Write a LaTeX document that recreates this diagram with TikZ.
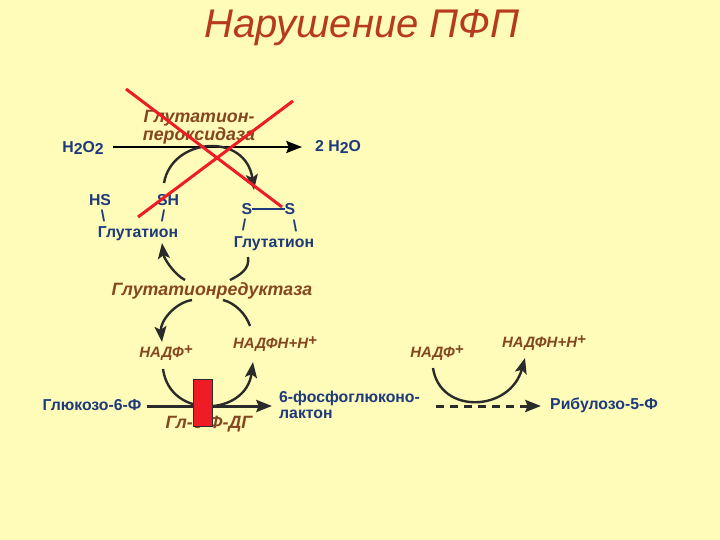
\documentclass[tikz,border=0pt]{standalone}
\usepackage{fontspec}
\setmainfont{Liberation Sans}
\usepackage{xcolor}
\definecolor{SlidePaper}{HTML}{FFFBB9}
\definecolor{SlideTitle}{HTML}{B63A1C}
\definecolor{SlideBlue}{HTML}{1C3A7C}
\definecolor{SlideBrown}{HTML}{84471F}
\definecolor{SlideInk}{HTML}{2B2B2B}
\definecolor{SlideRed}{HTML}{EE1C25}
\usetikzlibrary{positioning,arrows.meta,calc}
\newcommand{\lowtwo}{\raisebox{-2.5pt}{2}}
\newcommand{\hightplus}{\raisebox{3.5pt}{+}}
\tikzset{
  vtitle/.style={text=SlideTitle,inner sep=0pt,font=\fontsize{40}{40}\selectfont\itshape},
  vchem/.style={text=SlideBlue,inner sep=0pt,font=\fontsize{15.8}{16}\selectfont\bfseries},
  vchemleft/.style={vchem,align=left,anchor=west},
  venzyme/.style={text=SlideBrown,inner sep=0pt,align=center,font=\fontsize{17.8}{16}\selectfont\bfseries\itshape},
  vcofactor/.style={text=SlideBrown,inner sep=0pt,font=\fontsize{15}{16}\selectfont\bfseries\itshape},
  vflowline/.style={draw=SlideInk,line width=2.4pt},
  vflow/.style={vflowline,-{Stealth[length=5.5mm,width=4.2mm,inset=1.2mm]}},
  vmain/.style={-{Stealth[length=5.5mm,width=4.2mm,inset=0.8mm]},draw=black,line width=2.4pt},
  vdashflow/.style={vmain,draw=SlideInk,line width=3pt,dash pattern=on 8pt off 6pt},
  vcross/.style={draw=SlideRed,line width=3pt},
  vbond/.style={draw=SlideBlue,line width=1.2pt}
}
\begin{document}
\begin{tikzpicture}[x=1pt,y=-1pt]
  \useasboundingbox[fill=SlidePaper] (0,0) rectangle (720,540);
  \node[vtitle] (title) at (362,28) {Нарушение ПФП};
  % peroxidase step
  \node[vchem] (hperox) at (83,148) {H\lowtwo O\lowtwo};
  \node[vchem] (water) at (338,147) {2 H\lowtwo O};
  \node[venzyme] (gpx) at (199,127) {Глутатион-\\пероксидаза};
  \node[vchem] (hs) at (100,200) {HS};
  \node[vchem] (sh) at (168,200) {SH};
  \node[vchem] (hsbar) at (103,216) {\textbackslash};
  \node[vchem] (shbar) at (163,216) {/};
  \node[vchem] (gsh) at (138,234) {Глутатион};
  \node[vchem] (sleft) at (247,209) {S};
  \node[vchem] (sright) at (290,209) {S};
  \node[vchem] (sleftbar) at (244,225) {/};
  \node[vchem] (srightbar) at (295,226) {\textbackslash};
  \node[vchem] (gssg) at (274,244) {Глутатион};
  \draw[vmain] ([shift={(30,-1)}]hperox.center) -- ([shift={(-36,0)}]water.center);
  \draw[vflow] ([shift={(-4,-17)}]sh.center) .. controls +(8,-46) and +(-8,-58) .. ([shift={(7,-19)}]sleft.center);
  \draw[vbond] (sleft) -- (sright);
  % reductase step
  \node[venzyme] (gr) at (212,291) {Глутатионредуктаза};
  \draw[vflow] ([shift={(-27,-11)}]gr.center) .. controls +(-10,-5) and +(2,16) .. ([shift={(24,9)}]gsh.center);
  \draw[vflowline] ([shift={(18,-11)}]gr.center) .. controls +(10,-5) and +(2,12) .. ([shift={(-26,13)}]gssg.center);
  \node[vcofactor] (nadp) at (166,353) {НАДФ\hightplus};
  \node[vcofactor] (nadph) at (275,344) {НАДФН+Н\hightplus};
  \draw[vflow] ([shift={(-20,9)}]gr.center) .. controls +(-18,3) and +(-2,-20) .. ([shift={(-4,-11)}]nadp.center);
  \draw[vflowline] ([shift={(11,9)}]gr.center) .. controls +(12,3) and +(-4,-12) .. ([shift={(-25,-18)}]nadph.center);
  % glucose-6-phosphate step
  \node[vchem] (glc) at (92,405) {Глюкозо-6-Ф};
  \node[vchemleft] (lactone) at (279,405) {6-фосфоглюконо-\\лактон};
  \node[venzyme] (gpd) at (209,424) {Гл-6-Ф-ДГ};
  \draw[vmain,draw=SlideInk,line width=3pt] ([shift={(55,1)}]glc.center) -- ([shift={(-7,1)}]lactone.west);
  \draw[vflow] ([shift={(-3,16)}]nadp.center) .. controls +(7,51) and +(-7,54) .. ([shift={(-22,18)}]nadph.center);
  \node[draw=SlideInk,fill=SlideRed,line width=0.6pt,minimum width=19pt,minimum height=47pt,inner sep=0pt] (block) at (202.5,402.5) {};
  % ribulose step
  \node[vcofactor] (nadptwo) at (437,353) {НАДФ\hightplus};
  \node[vcofactor] (nadphtwo) at (544,343) {НАДФН+Н\hightplus};
  \node[vchem] (rib) at (604,405) {Рибулозо-5-Ф};
  \draw[vdashflow] ([shift={(157,1)}]lactone.west) -- ([shift={(-63,1)}]rib.center);
  \draw[vflow] ([shift={(-4,15)}]nadptwo.center) .. controls +(7,47) and +(-15,54) .. ([shift={(-19,15)}]nadphtwo.center);
  % crossed out
  \coordinate (crossa) at (126,89);
  \coordinate (crossb) at (282,207);
  \coordinate (crossc) at (293,101);
  \coordinate (crossd) at (138,217);
  \draw[vcross] (crossa) -- (crossb);
  \draw[vcross] (crossc) -- (crossd);
\end{tikzpicture}
\end{document}
